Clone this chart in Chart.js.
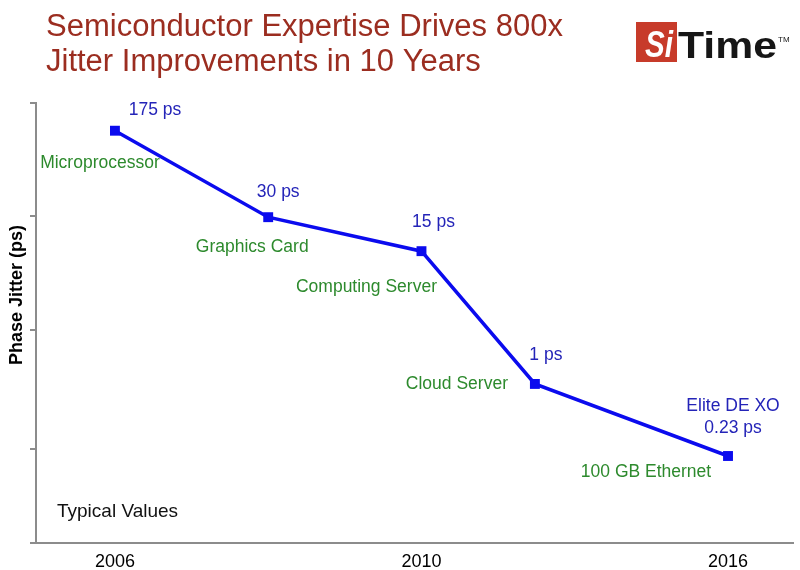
<!DOCTYPE html>
<html>
<head>
<meta charset="utf-8">
<script src="https://cdn.jsdelivr.net/npm/chart.js@4/dist/chart.umd.min.js"></script>
<style>
  body { margin: 0; background: #fff; }
  canvas { display: block; }
</style>
</head>
<body>
<canvas id="jitterChart" width="800" height="570"></canvas>
<script>
var categories = ['Microprocessor', 'Graphics Card', 'Computing Server', 'Cloud Server', '100 GB Ethernet'];
var jitterPs = [175, 30, 15, 1, 0.23];
var productNames = ['', '', '', '', 'Elite DE XO'];
var xSlots = [0, 1, 2, 2.74, 4];
var yearLabels = ['2006', '2010', '2016'];
var yearSlots = [0, 2, 4];
var jitterTicks = [0.039, 0.265, 3, 30.7, 308];

var FONT = "'Liberation Sans', Arial, sans-serif";

// label offsets from each point, [valueDx, valueDy, nameDx, nameDy]
var labelOffsets = [
  [40, -21, -15, 32],
  [10, -25, -16, 30],
  [12, -29, -55, 36],
  [11, -29, -78, 0],
  [5, -28, -82, 16]
];

function fitText(ctx, text, x, y, width) {
  var w = ctx.measureText(text).width;
  ctx.save();
  ctx.translate(x, y);
  ctx.scale(width / w, 1);
  ctx.fillText(text, 0, 0);
  ctx.restore();
}

var decorations = {
  id: 'decorations',
  afterDraw: function (chart) {
    var ctx = chart.ctx;
    var meta = chart.getDatasetMeta(0);
    ctx.save();

    // point labels
    ctx.textAlign = 'center';
    ctx.textBaseline = 'middle';
    ctx.font = '17.5px ' + FONT;
    meta.data.forEach(function (pt, i) {
      var off = labelOffsets[i];
      ctx.fillStyle = '#2424b8';
      ctx.fillText(jitterPs[i] + ' ps', pt.x + off[0], pt.y + off[1]);
      if (productNames[i]) {
        ctx.fillText(productNames[i], pt.x + off[0], pt.y + off[1] - 22);
      }
      ctx.fillStyle = '#2d8a2d';
      ctx.fillText(categories[i], pt.x + off[2], pt.y + off[3]);
    });

    // title
    ctx.textAlign = 'left';
    ctx.textBaseline = 'alphabetic';
    ctx.fillStyle = '#9b2d20';
    ctx.font = '31px ' + FONT;
    ctx.fillText('Semiconductor Expertise Drives 800x', 46, 36);
    ctx.fillText('Jitter Improvements in 10 Years', 46, 71);

    // y axis title
    ctx.save();
    ctx.translate(17, 295);
    ctx.rotate(-Math.PI / 2);
    ctx.textAlign = 'center';
    ctx.textBaseline = 'middle';
    ctx.fillStyle = '#000';
    ctx.font = 'bold 18px ' + FONT;
    ctx.fillText('Phase Jitter (ps)', 0, 0);
    ctx.restore();

    ctx.fillStyle = '#111';
    ctx.font = '19px ' + FONT;
    ctx.textBaseline = 'middle';
    ctx.fillText('Typical Values', 57, 512);

    // logo
    ctx.fillStyle = '#c73b2a';
    ctx.fillRect(636, 22, 41, 40);
    ctx.fillStyle = '#fff';
    ctx.textBaseline = 'alphabetic';
    ctx.font = 'italic bold 36px ' + FONT;
    fitText(ctx, 'Si', 645, 57, 28);
    ctx.fillStyle = '#161616';
    ctx.font = 'bold 36px ' + FONT;
    fitText(ctx, 'Time', 678, 58, 99);
    ctx.font = '8px ' + FONT;
    ctx.fillText('TM', 778, 42);

    ctx.restore();
  }
};

var lineData = {
  datasets: [{
    label: 'Phase jitter',
    data: xSlots.map(function (x, i) { return { x: x, y: jitterPs[i] }; }),
    borderColor: '#0b0bee',
    backgroundColor: '#0b0bee',
    borderWidth: 3.5,
    tension: 0,
    pointStyle: 'rect',
    pointRadius: 7,
    pointBorderWidth: 0,
    pointBackgroundColor: '#0b0bee'
  }]
};

var myLineChart = new Chart(document.getElementById('jitterChart'), {
  type: 'line',
  data: lineData,
  plugins: [decorations],
  options: {
    responsive: false,
    animation: false,
    layout: { padding: { top: 103, right: 7, left: 0, bottom: 0 } },
    plugins: {
      legend: { display: false },
      tooltip: { enabled: false }
    },
    scales: {
      x: {
        type: 'linear',
        bounds: 'data',
        min: -0.515,
        max: 4.424,
        afterBuildTicks: function (scale) {
          scale.ticks = yearSlots.map(function (v) { return { value: v }; });
        },
        afterFit: function (scale) { scale.height = 27; },
        ticks: {
          callback: function (value, index) { return yearLabels[index]; },
          color: '#000',
          font: { family: FONT, size: 18 },
          padding: 8,
          maxRotation: 0,
          autoSkip: false
        },
        grid: { display: false, drawTicks: false },
        border: { color: '#8c8c8c', width: 2 }
      },
      y: {
        type: 'logarithmic',
        bounds: 'data',
        min: 0.039,
        max: 308,
        afterBuildTicks: function (scale) {
          scale.ticks = jitterTicks.map(function (v) { return { value: v }; });
        },
        afterFit: function (scale) { scale.width = 36; },
        ticks: { display: false },
        grid: { drawOnChartArea: false, tickLength: 6, color: '#8c8c8c', lineWidth: 2 },
        border: { color: '#8c8c8c', width: 2 }
      }
    }
  }
});
</script>
</body>
</html>
